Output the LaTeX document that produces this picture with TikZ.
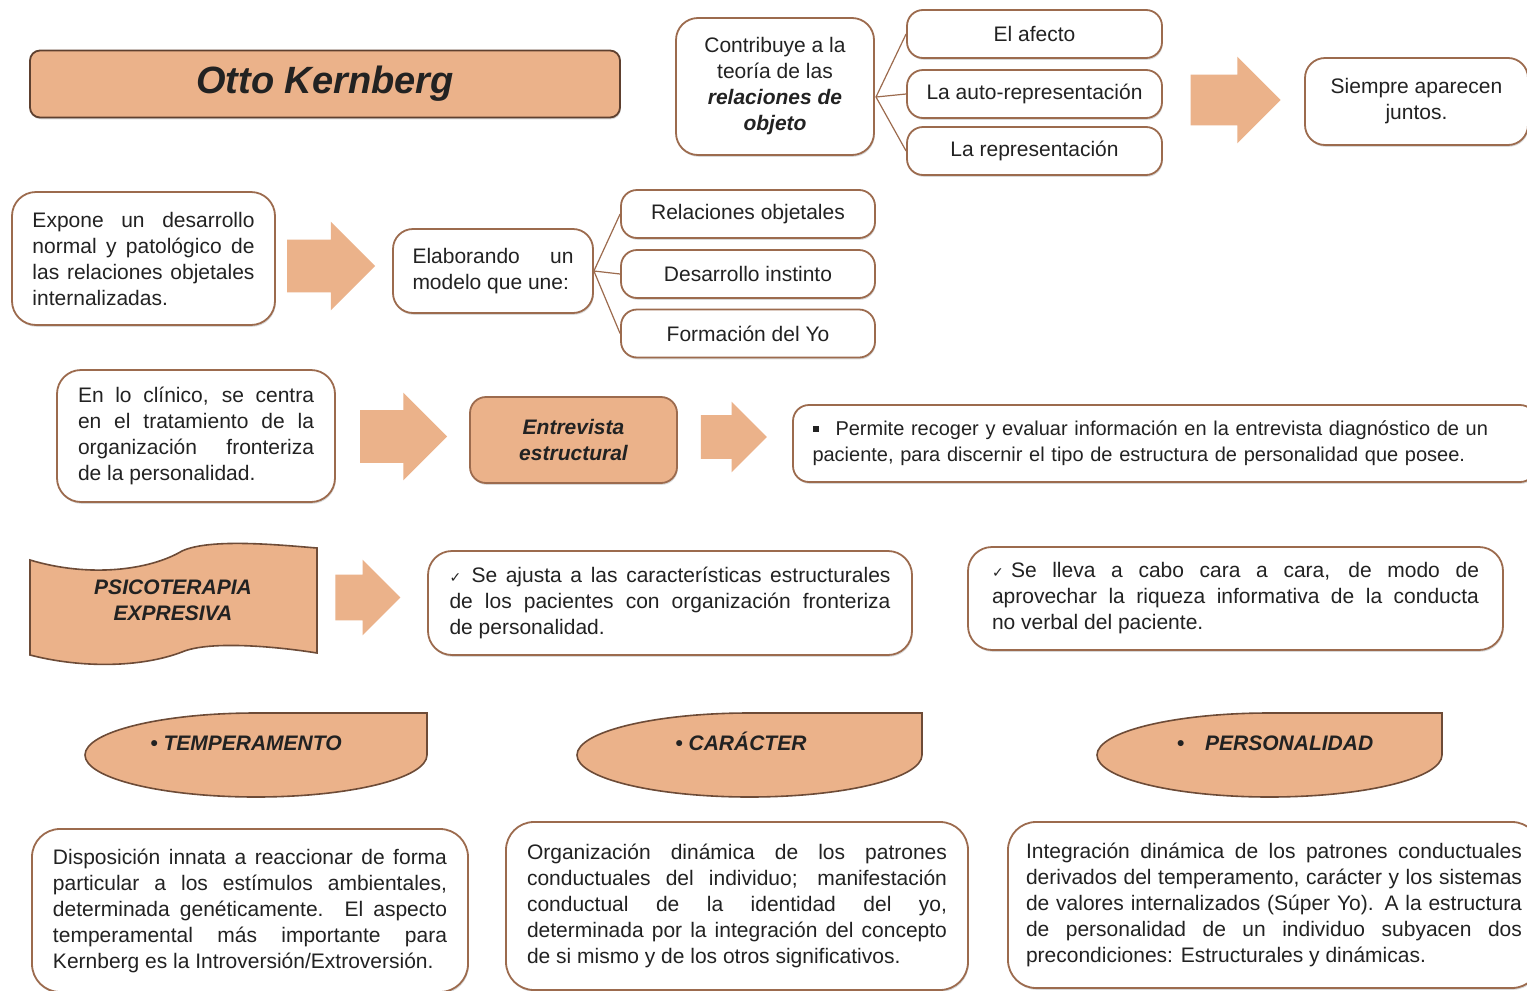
\documentclass[tikz,border=0pt]{standalone}
\usepackage{fontspec}
\setmainfont{Liberation Sans}
\newfontfamily\symfont{DejaVu Sans}
\usetikzlibrary{shapes.arrows,shadows}

\definecolor{peach}{HTML}{EBB28A}
\definecolor{edge}{HTML}{9C6B4E}
\definecolor{ink}{HTML}{222222}

\newcommand{\body}{\fontsize{10.5}{13}\selectfont}
\newcommand{\head}{\fontsize{10.5}{13}\selectfont\bfseries\itshape}
\newcommand{\chk}{{\symfont\fontsize{7}{8}\selectfont ✓}}

\tikzset{
  box/.style={draw=edge, line width=0.9pt, fill=white, rounded corners=8pt, inner sep=0pt, text=ink, font=\body,
    drop shadow={shadow xshift=0.4pt, shadow yshift=-0.9pt, opacity=0.3}},
  peachbox/.style={box, fill=peach},
  link/.style={draw=edge, line width=0.6pt},
  bigarrow/.style={single arrow, fill=peach, draw=none, inner xsep=0pt, single arrow head extend=#1},
  bigarrow/.default=9pt,
  capsule/.style={draw=edge!70!black, line width=0.8pt, fill=peach},
  tag/.style={font=\head, text=ink, text height=8pt, text depth=2pt},
}

\begin{document}
\begin{tikzpicture}[x=0.5pt, y=-0.5pt]
    \useasboundingbox (0,0) rectangle (1527,991);
    \fill[white] (0,0) rectangle (1527,991);

    % title and first row
    \node[peachbox, rounded corners=5pt, draw=edge!60!black, minimum width=295pt, minimum height=33.5pt,
      font=\fontsize{19}{22}\selectfont\bfseries\itshape] (title) at (325,84) {Otto Kernberg};
    \node[box, rounded corners=11pt, minimum width=99pt, minimum height=68.5pt, align=center] (contrib) at (775,86.5)
      {Contribuye a la\\teoría de las\\{\head relaciones de}\\{\head objeto}};
    \node[box, minimum width=127.5pt, minimum height=24pt] (afecto) at (1034.5,34) {El afecto};
    \node[box, minimum width=127.5pt, minimum height=24pt] (autorep) at (1034.5,94) {La auto-representación};
    \node[box, minimum width=127.5pt, minimum height=24pt] (repr) at (1034.5,151) {La representación};
    \node[bigarrow, inner ysep=12.5pt, minimum height=45pt] (a1) at (1223,100) {};
    \node[box, rounded corners=10pt, minimum width=111.5pt, minimum height=43.5pt, align=center] (siempre) at (1416.5,101.5)
      {Siempre aparecen\\juntos.};
    \coordinate (cfan) at (876,97);
    \draw[link] (cfan) -- (afecto.west);
    \draw[link] (cfan) -- (autorep.west);
    \draw[link] (cfan) -- (repr.west);

    % second row
    \node[box, rounded corners=12pt, minimum width=131.5pt, minimum height=66.5pt, text width=111pt, align=justify] (expone) at (143.5,258.5)
      {Expone un desarrollo\linebreak normal y patológico de\linebreak las relaciones objetales\linebreak internalizadas.};
    \node[bigarrow, inner ysep=13pt, minimum height=44pt] (a2) at (318,266) {};
    \node[box, rounded corners=10pt, minimum width=100pt, minimum height=42pt, text width=80.5pt, align=justify] (elab) at (493,271)
      {Elaborando un\linebreak modelo que une:};
    \node[box, minimum width=127pt, minimum height=24pt] (relobj) at (748,214) {Relaciones objetales};
    \node[box, minimum width=127pt, minimum height=24pt] (desinst) at (748,274) {Desarrollo instinto};
    \node[box, minimum width=127pt, minimum height=24pt] (formyo) at (748,333.5) {Formación del Yo};
    \draw[link] (elab.east) -- (relobj.west);
    \draw[link] (elab.east) -- (desinst.west);
    \draw[link] (elab.east) -- (formyo.west);

    % third row
    \node[box, rounded corners=12pt, minimum width=139pt, minimum height=66pt, text width=118pt, align=justify] (clinico) at (196,436)
      {En lo clínico, se centra\linebreak en el tratamiento de la\linebreak organización fronteriza\linebreak de la personalidad.};
    \node[bigarrow=8.75pt, inner ysep=13pt, minimum height=43.5pt] (a3) at (390.5,436.5) {};
    \node[peachbox, minimum width=103.5pt, minimum height=43pt, align=center, font=\head] (entrev) at (573.5,440)
      {Entrevista\\estructural};
    \node[bigarrow=6.75pt, inner ysep=10.75pt, minimum height=33pt] (a4) at (723,437) {};
    \node[box, minimum width=371.5pt, minimum height=38.5pt, text width=352pt, align=left,
      font=\fontsize{10}{13}\selectfont] (permite) at (1164.5,443.5)
      {\hangindent=11.5pt\hangafter=1\makebox[11.5pt][l]{\rule[2pt]{3pt}{3pt}}Permite recoger y evaluar información en la entrevista diagnóstico de un\\paciente, para discernir el tipo de estructura de personalidad que posee.};

    % fourth row
    \draw[capsule] (30,560) .. controls (90,578) and (150,570) .. (182,551)
      .. controls (210,538) and (280,545) .. (317,548) -- (317,653)
      .. controls (280,647) and (210,640) .. (182,652)
      .. controls (140,668) and (80,668) .. (30,655) -- cycle;
    \node[font=\head, text=ink, align=center] (psico) at (173,600) {PSICOTERAPIA\\EXPRESIVA};
    \node[bigarrow=7.5pt, inner ysep=11.25pt, minimum height=32.5pt] (a5) at (356.5,597.5) {};
    \node[box, rounded corners=12pt, minimum width=242pt, minimum height=52pt, text width=220.5pt, align=justify] (sejusta) at (670,603)
      {\hangindent=11pt\hangafter=1\makebox[11pt][l]{\chk}Se ajusta a las características estructurales\linebreak de los pacientes con organización fronteriza\linebreak de personalidad.};
    \node[box, rounded corners=12pt, minimum width=267.5pt, minimum height=51.5pt, text width=243.5pt, align=justify] (selleva) at (1235.5,598.5)
      {\hangindent=9.5pt\hangafter=1\makebox[9.5pt][l]{\chk}Se lleva a cabo cara a cara, de modo de\linebreak aprovechar la riqueza informativa de la conducta\linebreak no verbal del paciente.};

    % fifth row
    \draw[capsule] (427,713) -- (427,755) arc[start angle=0, end angle=-180, x radius=85.5pt, y radius=21pt]
      arc[start angle=180, end angle=90, x radius=85.5pt, y radius=21pt] -- cycle;
    \node[tag] (temper) at (246,744) {\textbullet\ TEMPERAMENTO};
    \draw[capsule] (922,713) -- (922,755) arc[start angle=0, end angle=-180, x radius=86.25pt, y radius=21pt]
      arc[start angle=180, end angle=90, x radius=86.25pt, y radius=21pt] -- cycle;
    \node[tag] (caracter) at (741,744) {\textbullet\ CARÁCTER};
    \draw[capsule] (1442,713) -- (1442,755) arc[start angle=0, end angle=-180, x radius=86.25pt, y radius=21pt]
      arc[start angle=180, end angle=90, x radius=86.25pt, y radius=21pt] -- cycle;
    \node[tag] (person) at (1275,744) {\textbullet\quad PERSONALIDAD};

    % last row
    \node[box, rounded corners=14pt, minimum width=218pt, minimum height=81.5pt, text width=197pt, align=justify] (dispo) at (250,910.5)
      {Disposición innata a reaccionar de forma\linebreak particular a los estímulos ambientales,\linebreak determinada genéticamente. El aspecto\linebreak temperamental más importante para\linebreak Kernberg es la Introversión/Extroversión.};
    \node[box, rounded corners=14pt, minimum width=231pt, minimum height=84pt, text width=210pt, align=justify] (organ) at (737,906)
      {Organización dinámica de los patrones\linebreak conductuales del individuo; manifestación\linebreak conductual de la identidad del yo,\linebreak determinada por la integración del concepto\linebreak de si mismo y de los otros significativos.};
    \node[box, rounded corners=14pt, minimum width=266pt, minimum height=83pt, text width=248pt, align=justify] (integ) at (1274,905)
      {Integración dinámica de los patrones conductuales\linebreak derivados del temperamento, carácter y los sistemas\linebreak de valores internalizados (Súper Yo). A la estructura\linebreak de personalidad de un individuo subyacen dos\linebreak precondiciones: Estructurales y dinámicas.};
\end{tikzpicture}
\end{document}
